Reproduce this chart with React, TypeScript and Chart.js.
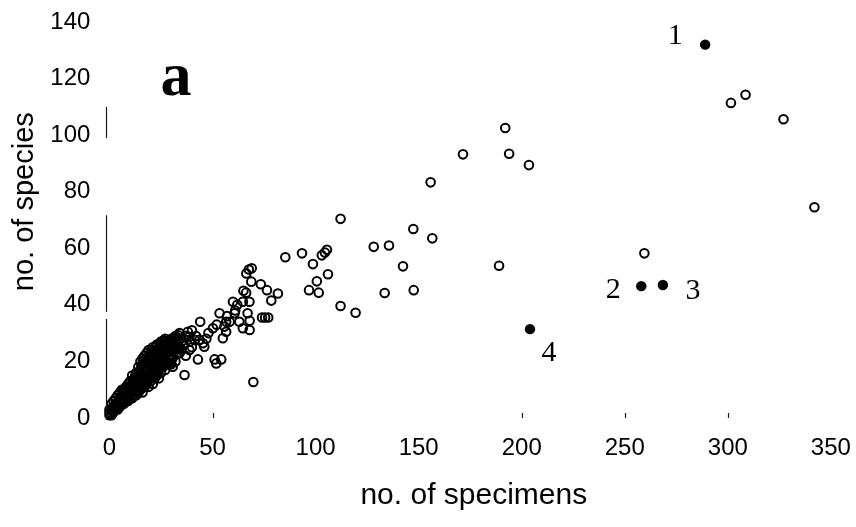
import React, { useEffect, useRef } from "react";
import { Chart, registerables } from "chart.js";

Chart.register(...registerables);

// Tick values on both axes
const X_TICKS = [0, 50, 100, 150, 200, 250, 300, 350];
const Y_TICKS = [0, 20, 40, 60, 80, 100, 120, 140];

// Open circles, [no. of specimens, no. of species]
// Small samples packed near the origin
const SMALL_SAMPLES: [number, number][] = [
  [0, 1], [0, 2], [0, 3], [1, 1], [1, 3], [1, 5], [2, 2], [2, 4], [2, 6],
  [3, 3], [3, 5], [3, 7], [4, 3], [4, 5], [4, 8], [5, 4], [5, 6], [5, 9],
  [6, 5], [6, 7], [6, 10], [7, 5], [7, 8], [7, 10], [8, 6], [8, 9], [8, 11],
  [9, 6], [9, 8], [9, 12], [10, 7], [10, 10], [10, 13], [11, 7], [11, 9], [11, 12], [11, 15],
  [12, 8], [12, 11], [12, 14], [13, 8], [13, 10], [13, 13], [13, 16],
  [14, 9], [14, 12], [14, 15], [14, 18], [15, 10], [15, 13], [15, 17], [15, 20],
  [16, 9], [16, 12], [16, 15], [16, 19], [16, 21], [17, 11], [17, 14], [17, 17], [17, 22],
  [18, 12], [18, 15], [18, 19], [18, 23], [19, 11], [19, 14], [19, 17], [19, 21], [19, 24],
  [20, 13], [20, 16], [20, 19], [20, 23], [21, 12], [21, 15], [21, 18], [21, 22], [21, 25],
  [22, 14], [22, 17], [22, 21], [22, 24], [23, 15], [23, 19], [23, 23], [23, 26],
  [24, 14], [24, 17], [24, 21], [24, 25], [25, 16], [25, 20], [25, 24], [25, 27],
  [26, 18], [26, 22], [26, 26], [27, 17], [27, 20], [27, 25], [27, 28],
  [28, 19], [28, 23], [28, 27], [29, 21], [29, 26], [30, 19], [30, 24], [30, 28],
  [31, 22], [31, 27], [32, 20], [32, 25], [32, 29], [33, 23], [33, 28], [34, 25], [34, 30], [35, 27],
  [0.5, 1.5], [1.5, 2.5], [2.5, 3.5], [3.5, 4], [4.5, 4.5], [4.5, 6.5], [5.5, 5], [5.5, 7.5],
  [6.5, 6], [6.5, 8.5], [7.5, 6.5], [7.5, 9], [8.5, 7.5], [8.5, 10], [9.5, 7], [9.5, 9.5], [9.5, 11],
  [10.5, 8.5], [10.5, 11.5], [11.5, 8], [11.5, 10.5], [11.5, 13.5], [12.5, 9.5], [12.5, 12.5], [12.5, 15],
  [13.5, 11], [13.5, 14.5], [14.5, 10.5], [14.5, 13.5], [14.5, 16.5], [15.5, 11.5], [15.5, 15], [15.5, 18.5],
  [16.5, 13.5], [16.5, 17], [16.5, 20], [17.5, 12.5], [17.5, 16], [17.5, 19.5], [18.5, 13.5], [18.5, 17.5],
  [18.5, 21], [19.5, 15.5], [19.5, 19], [19.5, 22.5], [20.5, 14.5], [20.5, 18], [20.5, 21], [20.5, 24],
  [21.5, 16.5], [21.5, 20], [21.5, 23.5], [22.5, 15.5], [22.5, 19], [22.5, 22.5], [22.5, 25.5],
  [23.5, 17], [23.5, 21], [23.5, 24.5], [24.5, 18.5], [24.5, 23], [24.5, 26.5], [25.5, 18], [25.5, 22],
  [25.5, 25.5], [26.5, 20], [26.5, 24], [26.5, 27.5], [27.5, 19], [27.5, 23], [27.5, 26.5], [28.5, 21.5],
  [28.5, 25], [29.5, 19.5], [29.5, 23.5], [29.5, 27.5], [30.5, 21], [30.5, 26], [31.5, 24.5], [31.5, 28.5],
  [32.5, 22.5], [32.5, 26.5], [33.5, 25], [34.5, 28],
];

// Medium samples
const MID_SAMPLES: [number, number][] = [
  [28.3, 24], [30.7, 18.1], [33.2, 29.3], [34, 22.9], [35, 24], [36, 26], [36.4, 15.2], [37, 22],
  [37, 29], [38, 30.5], [38.8, 24], [38.8, 28.7], [39, 27], [40, 25], [40, 31], [41.3, 27.6],
  [42, 29], [42.9, 20.7], [43.7, 27.6], [44, 34], [45.3, 26.4], [46, 25.2], [47, 28], [48, 30],
  [50.2, 31.7], [51, 20.7], [51.8, 19.3], [52, 33], [53.4, 37], [54.2, 20.7], [55, 28.2], [55.8, 32.3],
  [56.6, 34], [56.6, 30.5], [57, 36], [58.3, 34], [59.9, 41.1], [60.7, 37], [61, 38], [62, 40],
  [63, 34], [64.7, 41.1], [64.7, 31.7], [65, 45], [66.4, 51.1], [66.3, 44.3], [67, 37], [67.6, 52.5],
  [67.9, 41.1], [68, 34.4], [68, 31.1], [68.8, 48.2], [69, 52.9], [69.8, 12.7],
];

// Large samples
const LARGE_SAMPLES: [number, number][] = [
  [73.4, 47.3], [74, 35.5], [75.5, 35.5], [77, 35.5], [76.4, 45.2], [78.5, 41.5],
  [81.7, 44], [85.3, 56.8], [93.4, 58.2], [96.8, 45.2], [98.7, 54.4], [100.6, 48.3],
  [101.5, 44.3], [103, 57.5], [104.5, 58.5], [105.5, 59.5], [106, 50.8], [112.1, 70.4],
  [112.1, 39.6], [119.4, 37.2], [128.2, 60.5], [133.5, 44.2], [135.6, 61], [142.4, 53.6],
  [147.4, 66.8], [147.6, 45.2], [155.8, 83.3], [156.6, 63.5], [171.5, 93.2], [189, 53.8],
  [192, 102.5], [193.9, 93.4], [203.5, 89.4], [259.5, 58.2], [301.5, 111.4], [308.6, 114.3],
  [327, 105.6], [342, 74.5],
];

// Highlighted samples (filled circles) and their numbers
const MARKED_SPECIMENS = [289, 258, 268.5, 204];
const MARKED_SPECIES = [132, 46.6, 47, 31.4];
const MARKED_IDS = ["1", "2", "3", "4"];

const PANEL_LETTER = "a";
const X_TITLE = "no. of specimens";
const Y_TITLE = "no. of species";

const SANS = "'Liberation Sans', Arial, Helvetica, sans-serif";
const SERIF = "'Liberation Serif', 'Times New Roman', serif";

// Offsets (px) of each number from its filled circle
const ID_OFFSETS: [number, number][] = [[-30, -8.5], [-28, 4], [30, 6], [19, 24]];
// Remaining pieces of the left axis line (in species units) and short marks on the base line
const AXIS_PIECES: [number, number][] = [[99, 110], [37.5, 71.7], [-0.7, 35]];
const BASE_MARKS = [50, 200, 250, 300];

const annotations = {
  id: "annotations",
  afterDraw(chart: any) {
    const { ctx, chartArea, scales } = chart;
    const xs = scales.x;
    const ys = scales.y;
    ctx.save();

    ctx.strokeStyle = "#1a1a1a";
    ctx.lineWidth = 1.2;
    const ax = Math.round(chartArea.left) + 0.5;
    for (const [a, b] of AXIS_PIECES) {
      ctx.beginPath();
      ctx.moveTo(ax, ys.getPixelForValue(a));
      ctx.lineTo(ax, ys.getPixelForValue(b));
      ctx.stroke();
    }
    const y0 = ys.getPixelForValue(0);
    for (const v of BASE_MARKS) {
      const px = Math.round(xs.getPixelForValue(v)) + 0.5;
      ctx.beginPath();
      ctx.moveTo(px, y0 - 5);
      ctx.lineTo(px, y0);
      ctx.stroke();
    }

    ctx.fillStyle = "#000";
    ctx.font = `bold 62px ${SERIF}`;
    ctx.textAlign = "center";
    ctx.textBaseline = "alphabetic";
    ctx.fillText(PANEL_LETTER, 176, 95);

    ctx.font = `30px ${SERIF}`;
    ctx.textBaseline = "middle";
    MARKED_IDS.forEach((id, i) => {
      const px = xs.getPixelForValue(MARKED_SPECIMENS[i]) + ID_OFFSETS[i][0];
      const py = ys.getPixelForValue(MARKED_SPECIES[i]) + ID_OFFSETS[i][1];
      ctx.fillText(id, px, py);
    });

    ctx.font = `29px ${SANS}`;
    ctx.translate(24.5, 201.7);
    ctx.rotate(-Math.PI / 2);
    ctx.fillText(Y_TITLE, 0, 0);
    ctx.restore();
  },
};

// Keep the plot area exactly where the layout padding puts it
const noLabelPadding = (scale: any) => {
  scale.paddingLeft = 0;
  scale.paddingRight = 0;
  scale.paddingTop = 0;
  scale.paddingBottom = 0;
};

export default function App() {
  const canvasRef = useRef<HTMLCanvasElement | null>(null);

  useEffect(() => {
    const canvas = canvasRef.current;
    if (!canvas) return;
    const toXY = (pts: [number, number][]) => pts.map(([x, y]) => ({ x, y }));
    const openPoints = [...toXY(SMALL_SAMPLES), ...toXY(MID_SAMPLES), ...toXY(LARGE_SAMPLES)];
    const filledPoints = MARKED_SPECIMENS.map((x, i) => ({ x, y: MARKED_SPECIES[i] }));

    const chart = new Chart(canvas, {
      type: "scatter",
      data: {
        datasets: [
          {
            data: openPoints,
            pointRadius: 4.3,
            pointBorderWidth: 2,
            pointBackgroundColor: "rgba(0,0,0,0)",
            pointBorderColor: "#000",
            clip: false,
          },
          {
            data: filledPoints,
            pointRadius: 5.2,
            pointBorderWidth: 0,
            pointBackgroundColor: "#000",
            pointBorderColor: "#000",
            clip: false,
          },
        ],
      },
      options: {
        animation: false,
        responsive: false,
        devicePixelRatio: 1,
        events: [],
        layout: { autoPadding: false, padding: { top: 22, right: 14.8, bottom: 0, left: 0 } },
        plugins: { legend: { display: false }, tooltip: { enabled: false } },
        scales: {
          x: {
            type: "linear",
            min: -1.5,
            max: 355,
            grid: { display: false, drawTicks: false },
            border: { display: false },
            ticks: { color: "#000", font: { family: SANS, size: 24 }, padding: 13, maxRotation: 0, autoSkip: false },
            afterBuildTicks: (scale: any) => {
              scale.ticks = X_TICKS.map((v) => ({ value: v }));
            },
            afterFit: (scale: any) => {
              scale.height = 106.2;
              noLabelPadding(scale);
            },
            title: {
              display: true,
              text: X_TITLE,
              color: "#000",
              font: { family: SANS, size: 30 },
              padding: { top: 0, bottom: 13 },
            },
          },
          y: {
            type: "linear",
            min: -1,
            max: 140,
            grid: { display: false, drawTicks: false },
            border: { display: false },
            ticks: { color: "#000", font: { family: SANS, size: 24 }, padding: 16, autoSkip: false },
            afterBuildTicks: (scale: any) => {
              scale.ticks = Y_TICKS.map((v) => ({ value: v }));
            },
            afterFit: (scale: any) => {
              scale.width = 106.4;
              noLabelPadding(scale);
            },
          },
        },
      },
      plugins: [annotations],
    });

    return () => chart.destroy();
  }, []);

  return (
    <div style={{ position: "fixed", left: 0, top: 0, width: 856, height: 527, background: "#fff" }}>
      <canvas ref={canvasRef} width={856} height={527} style={{ display: "block" }} />
    </div>
  );
}
